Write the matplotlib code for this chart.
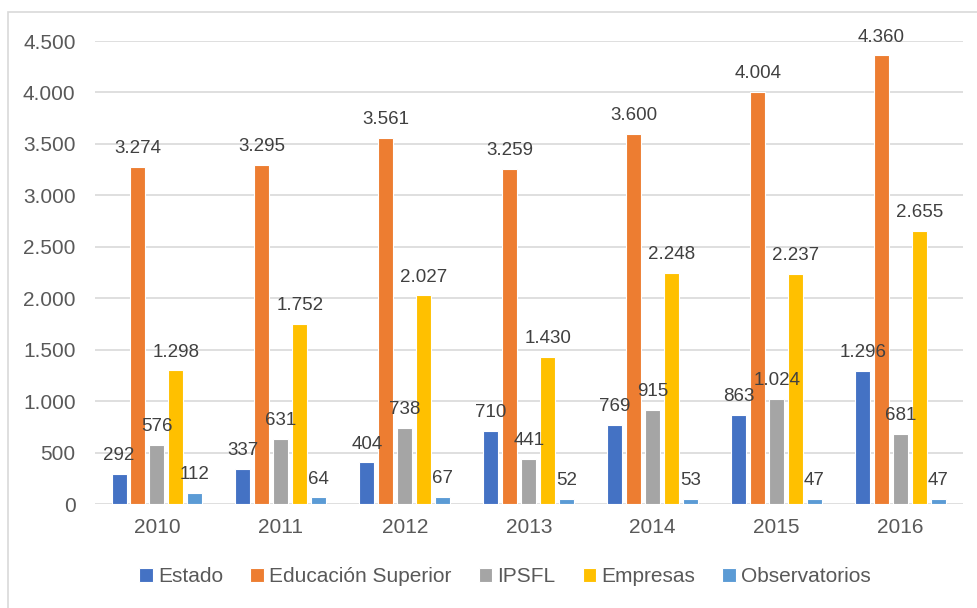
import matplotlib

matplotlib.use("Agg")
import matplotlib.pyplot as plt
import numpy as np
from matplotlib.patches import Rectangle

plt.rcParams["font.family"] = ["Liberation Sans", "DejaVu Sans"]

# ---------------------------------------------------------------------------
# Data
# ---------------------------------------------------------------------------

years = ["2010", "2011", "2012", "2013", "2014", "2015", "2016"]
series_names = ["Estado", "Educación Superior", "IPSFL", "Empresas", "Observatorios"]

estado = [292, 337, 404, 710, 769, 863, 1296]
educacion_superior = [3274, 3295, 3561, 3259, 3600, 4004, 4360]
ipsfl = [576, 631, 738, 441, 915, 1024, 681]
empresas = [1298, 1752, 2027, 1430, 2248, 2237, 2655]
observatorios = [112, 64, 67, 52, 53, 47, 47]

y_ticks = [0, 500, 1000, 1500, 2000, 2500, 3000, 3500, 4000, 4500]

colours = ["#4472C4", "#ED7D31", "#A5A5A5", "#FFC000", "#5B9BD5"]


def fmt(v: float) -> str:
    # Spanish thousands separator
    return f"{int(v):,}".replace(",", ".")


fig = plt.figure(figsize=(9.77, 6.08), dpi=100)
ax = fig.add_axes([0.0972, 0.171, 0.888, 0.7615])

# light frame round the chart (right and bottom edges fall outside the image)
fig.patches.append(
    Rectangle((0.008, -0.05), 1.1, 1.03, transform=fig.transFigure,
              fill=False, edgecolor="#D9D9D9", linewidth=1.2)
)

all_series = [estado, educacion_superior, ipsfl, empresas, observatorios]
x = np.arange(len(years))
step = 0.153
width = 0.121

for i, (name, vals) in enumerate(zip(series_names, all_series)):
    pos = x + (i - 2) * step
    bars = ax.bar(pos, vals, width=width, color=colours[i], edgecolor="white",
                  linewidth=0.8, label=name, zorder=3)
    for b, v in zip(bars, vals):
        ax.annotate(fmt(v), (b.get_x() + b.get_width() / 2, v),
                    xytext=(0, 10), textcoords="offset points",
                    ha="center", va="baseline", fontsize=13.5, color="#404040",
                    zorder=4)

ax.set_xlim(-0.5, len(years) - 0.5)
ax.set_ylim(0, 4500)
ax.set_yticks(y_ticks)
ax.set_yticklabels([fmt(t) for t in y_ticks])
ax.set_xticks(x)
ax.set_xticklabels(years)
ax.tick_params(axis="both", length=0, labelsize=15, colors="#595959")
ax.tick_params(axis="x", pad=10)
ax.tick_params(axis="y", pad=14)
ax.grid(axis="y", color="#D9D9D9", linewidth=1.2, zorder=0)
for s in ax.spines.values():
    s.set_visible(False)

fig.legend(loc="center", bbox_to_anchor=(0.517, 0.051), ncol=5, frameon=False,
           fontsize=15, handlelength=0.65, handleheight=0.65, handletextpad=0.25,
           columnspacing=1.3, labelcolor="#595959")

fig.savefig("out.png", dpi=100)
